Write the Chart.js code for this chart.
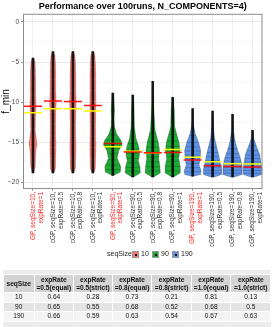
<!DOCTYPE html>
<html>
<head>
<meta charset="utf-8">
<script src="https://cdn.jsdelivr.net/npm/chart.js@4.4.1/dist/chart.umd.min.js"></script>
<style>
    body { margin: 0; background: #fff; font-family: "Liberation Sans", Arial, sans-serif; }
    #wrap { position: relative; width: 273px; height: 250px; }
    #legend { position: absolute; left: 0; top: 249px; width: 273px; height: 12px; font-size: 7px; color: #222; }
    #legend span { position: absolute; top: 1px; }
    #legend .box { width: 7px; height: 7px; border: 1px solid #999; box-sizing: border-box; top: 2px; }
    #legend .box::after { content: ''; position: absolute; left: 2px; top: 2px; width: 2px; height: 2px; background: #000; }
    #tblWrap { position: absolute; left: 3px; top: 270px; width: 268px; height: 57px; background: #ececec; }
    table { position: absolute; left: 0; top: 4px; border-collapse: collapse; font-size: 6.6px; color: #111; }
    th, td { border: 1px solid #fff; text-align: center; padding: 0; }
    th { background: #d4d4d4; height: 17px; line-height: 8px; font-weight: bold; }
    td { height: 8.5px; line-height: 8px; }
    tr.odd td { background: #f4f4f4; }
    tr.even td { background: #e4e4e4; }
</style>
</head>
<body>
<div id="wrap"><canvas id="violinChart" width="273" height="250"></canvas></div>
<div id="legend"></div>
<div id="tblWrap"><table id="statTable"></table></div>
<script>
// categories
const labels = [
    ['GP, seqSize=10,', 'expRate=1'], ['cGP, seqSize=10,', 'expRate=0.5'], ['cGP, seqSize=10,', 'expRate=0.8'], ['cGP, seqSize=10,', 'expRate=1'],
    ['GP, seqSize=90,', 'expRate=1'], ['cGP, seqSize=90,', 'expRate=0.5'], ['cGP, seqSize=90,', 'expRate=0.8'], ['cGP, seqSize=90,', 'expRate=1'],
    ['GP, seqSize=190,', 'expRate=1'], ['cGP, seqSize=190,', 'expRate=0.5'], ['cGP, seqSize=190,', 'expRate=0.8'], ['cGP, seqSize=190,', 'expRate=1']
];
const seqSizes = ['10', '90', '190'];
const groupOf = [0, 0, 0, 0, 1, 1, 1, 1, 2, 2, 2, 2];

// f_min range of the runs, and the two summary lines
const fMin = [-18.8, -18.8, -18.8, -18.8, -19.1, -19.3, -19.3, -19.3, -19.2, -19.3, -19.3, -19.3];
const fMax = [-4.5, -3.7, -3.7, -3.7, -8.85, -9.1, -7.4, -9.4, -10.8, -11.1, -11.5, -13.5];
const redLine = [-10.5, -9.85, -9.9, -10.4, -15.15, -16.2, -16.3, -16.25, -17.2, -17.9, -18.0, -18.05];
const yellowLine = [-11.3, -10.8, -10.8, -11.1, -15.55, -16.1, -16.3, -15.9, -16.85, -17.4, -17.65, -17.7];

// violin outlines: f_min levels and half widths (in category units)
const violinLevels = [
    [-4.5, -5, -6, -7.5, -9, -10.5, -12, -13.5, -14.5, -15.2, -16, -17, -18, -18.8],
    [-3.7, -4.2, -5.5, -7, -8.5, -10, -11.5, -13, -14.5, -15.5, -16.5, -17.5, -18.3, -18.8],
    [-3.7, -4.2, -5.5, -7, -8.5, -10, -11.5, -13, -14.5, -15.5, -16.5, -17.5, -18.3, -18.8],
    [-3.7, -4.2, -5.5, -7, -8.5, -10, -11.5, -13, -14.5, -15.5, -16.5, -17.5, -18.3, -18.8],
    [-8.85, -10, -11, -12, -13, -14, -14.8, -15.3, -16, -17, -18, -18.7, -19.1],
    [-9.1, -11, -13, -14.5, -15.5, -16.5, -17.3, -18, -18.8, -19.3],
    [-7.4, -9, -10.5, -12, -13.5, -15, -16, -17, -18, -18.8, -19.3],
    [-9.4, -11, -13, -14, -15, -16, -17, -18, -18.8, -19.3],
    [-10.8, -12, -13, -14, -15, -16, -17, -17.8, -18.5, -19, -19.2],
    [-11.1, -13, -14.5, -15.5, -16.5, -17.5, -18.3, -19, -19.3],
    [-11.5, -13.5, -15, -16, -17, -18, -19, -19.3],
    [-13.5, -14.5, -15.5, -16.5, -17.5, -18.3, -19, -19.3]
];
const violinWidths = [
    [0.02, 0.1, 0.12, 0.13, 0.13, 0.15, 0.12, 0.11, 0.16, 0.2, 0.14, 0.12, 0.11, 0.03],
    [0.02, 0.1, 0.13, 0.14, 0.14, 0.16, 0.14, 0.13, 0.14, 0.15, 0.14, 0.13, 0.12, 0.03],
    [0.02, 0.1, 0.13, 0.14, 0.14, 0.16, 0.14, 0.13, 0.14, 0.15, 0.14, 0.13, 0.12, 0.03],
    [0.02, 0.1, 0.13, 0.14, 0.14, 0.15, 0.14, 0.13, 0.14, 0.15, 0.14, 0.13, 0.12, 0.03],
    [0.02, 0.06, 0.08, 0.06, 0.08, 0.2, 0.42, 0.47, 0.3, 0.22, 0.4, 0.38, 0.05],
    [0.02, 0.06, 0.08, 0.16, 0.3, 0.34, 0.28, 0.36, 0.38, 0.05],
    [0.01, 0.02, 0.04, 0.08, 0.12, 0.28, 0.34, 0.3, 0.36, 0.38, 0.05],
    [0.02, 0.08, 0.1, 0.2, 0.32, 0.36, 0.3, 0.38, 0.38, 0.05],
    [0.01, 0.02, 0.06, 0.14, 0.3, 0.4, 0.38, 0.32, 0.42, 0.4, 0.05],
    [0.01, 0.04, 0.1, 0.2, 0.3, 0.38, 0.46, 0.46, 0.1],
    [0.01, 0.04, 0.14, 0.26, 0.4, 0.48, 0.48, 0.1],
    [0.02, 0.06, 0.2, 0.36, 0.42, 0.48, 0.46, 0.1]
];

// y ticks (major labelled, minor grid only)
const yTicks = [0, -5, -10, -15, -20];
const yMinorTicks = [-2.5, -7.5, -12.5, -17.5];

// success table
const tableHead = ['seqSize', 'expRate\n=0.5(equal)', 'expRate\n=0.5(strict)', 'expRate\n=0.8(equal)', 'expRate\n=0.8(strict)', 'expRate\n=1.0(equal)', 'expRate\n=1.0(strict)'];
const rate05equal = [0.64, 0.65, 0.66];
const rate05strict = [0.28, 0.55, 0.59];
const rate08equal = [0.73, 0.68, 0.63];
const rate08strict = [0.21, 0.52, 0.54];
const rate10equal = [0.81, 0.68, 0.67];
const rate10strict = [0.13, 0.5, 0.63];

const fillColors = ['#F8766D', '#1DAA35', '#5E93E6'];
const fontFamily = '"Liberation Sans", Arial, sans-serif';

// violin shapes + decile lines, drawn through the chart scales
const violinPlugin = {
    id: 'violins',
    beforeDatasetsDraw(chart) {
        const ctx = chart.ctx;
        const xs = chart.scales.x;
        const ys = chart.scales.y;
        const unit = xs.getPixelForValue(1) - xs.getPixelForValue(0);
        ctx.save();
        violinLevels.forEach((lv, i) => {
            const wd = violinWidths[i];
            const cx = xs.getPixelForValue(i);
            ctx.beginPath();
            ctx.moveTo(cx, ys.getPixelForValue(lv[0]));
            lv.forEach((v, k) => {
                ctx.lineTo(cx - wd[k] * unit, ys.getPixelForValue(v));
            });
            for (let k = lv.length - 1; k >= 0; k--) {
                ctx.lineTo(cx + wd[k] * unit, ys.getPixelForValue(lv[k]));
            }
            ctx.closePath();
            ctx.fillStyle = fillColors[groupOf[i]];
            ctx.fill();
            ctx.strokeStyle = 'rgba(60,60,60,0.5)';
            ctx.lineWidth = 0.6;
            ctx.stroke();

            // deciles from the outline area
            const seg = [];
            let total = 0;
            for (let k = 1; k < lv.length; k++) {
                const a = Math.abs(lv[k - 1] - lv[k]) * (wd[k - 1] + wd[k]) / 2;
                seg.push(a);
                total += a;
            }
            ctx.strokeStyle = groupOf[i] === 0 ? 'rgba(255,255,255,0.35)' : 'rgba(0,0,0,0.4)';
            ctx.lineWidth = 0.5;
            for (let q = 1; q < 10; q++) {
                let target = total * q / 10, acc = 0;
                for (let k = 0; k < seg.length; k++) {
                    if (acc + seg[k] >= target) {
                        const t = (target - acc) / seg[k];
                        const v = lv[k] + (lv[k + 1] - lv[k]) * t;
                        const w = wd[k] + (wd[k + 1] - wd[k]) * t;
                        const py = ys.getPixelForValue(v);
                        ctx.beginPath();
                        ctx.moveTo(cx - w * unit, py);
                        ctx.lineTo(cx + w * unit, py);
                        ctx.stroke();
                        break;
                    }
                    acc += seg[k];
                }
            }
        });
        ctx.restore();
    },
    afterDraw(chart) {
        const a = chart.chartArea;
        chart.ctx.save();
        chart.ctx.strokeStyle = '#8c8c8c';
        chart.ctx.lineWidth = 1;
        chart.ctx.strokeRect(a.left + 0.5, a.top + 0.5, a.width - 1, a.height - 1);
        chart.ctx.restore();
    }
};

const ctx = document.getElementById('violinChart').getContext('2d');
new Chart(ctx, {
    type: 'bar',
    data: {
        labels: labels,
        datasets: [{
            label: 'runs',
            data: fMin.map((v, i) => [v, fMax[i]]),
            backgroundColor: 'rgba(0,0,0,0.85)',
            barThickness: 2,
            order: 3
        }, {
            type: 'line',
            label: 'yellow',
            data: yellowLine,
            showLine: false,
            pointStyle: 'line',
            pointRadius: 9,
            pointHoverRadius: 9,
            borderColor: '#FFFF00',
            borderWidth: 1.5,
            order: 2
        }, {
            type: 'line',
            label: 'red',
            data: redLine,
            showLine: false,
            pointStyle: 'line',
            pointRadius: 9,
            pointHoverRadius: 9,
            borderColor: 'rgba(255,0,0,0.9)',
            borderWidth: 1.5,
            order: 1
        }]
    },
    options: {
        responsive: false,
        animation: false,
        layout: { padding: { left: 0, right: 3, top: 0, bottom: 0 } },
        plugins: {
            legend: { display: false },
            tooltip: { enabled: false },
            title: {
                display: true,
                fullSize: false,
                text: 'Performance over 100runs, N_COMPONENTS=4)',
                color: '#000',
                font: { family: fontFamily, size: 9, weight: 'bold' },
                padding: { top: 1, bottom: 2 }
            }
        },
        scales: {
            x: {
                offset: true,
                grid: { offset: false, color: '#ebebeb', lineWidth: 0.8, tickLength: 2, tickColor: '#8c8c8c' },
                border: { display: false },
                ticks: {
                    minRotation: 90,
                    maxRotation: 90,
                    autoSkip: false,
                    padding: 1,
                    color: (c) => labels[c.index] && labels[c.index][0].startsWith('GP') ? '#FF2020' : '#333',
                    font: { family: fontFamily, size: 6.5 }
                },
                afterFit: (axis) => { axis.height = 61; }
            },
            y: {
                min: -20.8,
                max: 1.0,
                afterBuildTicks: (axis) => {
                    axis.ticks = yTicks.concat(yMinorTicks).sort((a, b) => a - b).map(v => ({ value: v }));
                },
                grid: {
                    color: (c) => yTicks.includes(c.tick.value) ? '#e6e6e6' : '#f3f3f3',
                    lineWidth: (c) => yTicks.includes(c.tick.value) ? 0.9 : 0.6,
                    tickLength: 2,
                    tickColor: (c) => yTicks.includes(c.tick.value) ? '#8c8c8c' : 'rgba(0,0,0,0)'
                },
                border: { display: false },
                ticks: {
                    padding: 2,
                    color: '#4d4d4d',
                    font: { family: fontFamily, size: 6.5 },
                    callback: (v) => yTicks.includes(v) ? (v < 0 ? '\u2212' + Math.abs(v) : String(v)) : ''
                },
                title: {
                    display: true,
                    text: 'f_min',
                    color: '#000',
                    font: { family: fontFamily, size: 10 },
                    padding: { top: 0, bottom: 0 }
                },
                afterFit: (axis) => { axis.width = 23; }
            }
        }
    },
    plugins: [violinPlugin]
});

// legend
const legend = document.getElementById('legend');
legend.innerHTML = '<span style="left:107px">seqSize</span>';
seqSizes.forEach((s, i) => {
    const bx = 132 + i * 20;
    legend.innerHTML += '<span class="box" style="left:' + bx + 'px;background:' + fillColors[i] + '"></span>' +
        '<span style="left:' + (bx + 9) + 'px">' + s + '</span>';
});

// table
const table = document.getElementById('statTable');
const widths = [30, 39, 38, 39, 39, 39, 39];
let html = '<tr>' + tableHead.map((h, i) => '<th style="width:' + widths[i] + 'px">' + h.replace('\n', '<br>') + '</th>').join('') + '</tr>';
seqSizes.forEach((s, r) => {
    const vals = [s, rate05equal[r], rate05strict[r], rate08equal[r], rate08strict[r], rate10equal[r], rate10strict[r]];
    html += '<tr class="' + (r % 2 === 0 ? 'odd' : 'even') + '">' + vals.map(v => '<td>' + v + '</td>').join('') + '</tr>';
});
table.innerHTML = html;
</script>
</body>
</html>
